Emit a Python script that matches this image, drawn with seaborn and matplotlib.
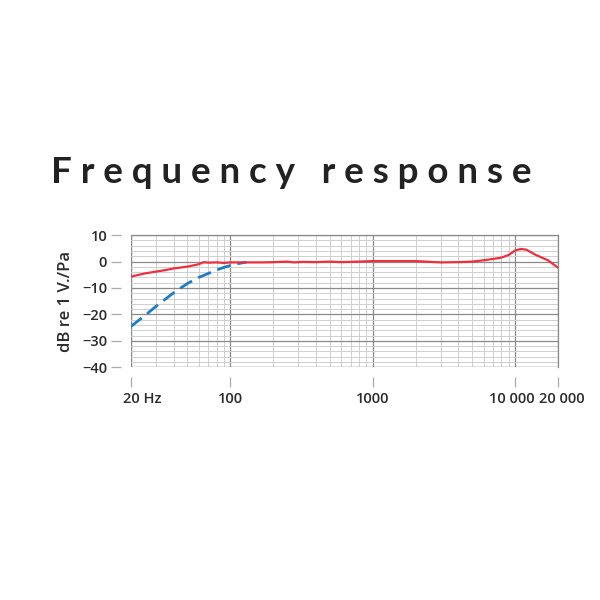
import numpy as np
import pandas as pd
import matplotlib
matplotlib.use('Agg')
import matplotlib.pyplot as plt
import matplotlib.transforms as mtransforms
from matplotlib.ticker import FixedLocator, LogLocator, MultipleLocator, NullFormatter
import seaborn as sns

# Frequency response data
red_freq = [20, 25, 30, 35, 40, 50, 60, 65, 70, 80, 90, 100, 130, 170, 200, 250, 280, 320, 400,
            500, 600, 800, 1000, 1500, 2000, 3000, 4000, 5000, 6000, 7000, 8000, 9000, 10000,
            11000, 12000, 14000, 17000, 20000]
red_db = [-5.7, -4.5, -3.8, -3.2, -2.6, -1.9, -1.0, -0.2, -0.4, -0.3, -0.5, -0.3, -0.3, -0.3, -0.2,
          0.0, -0.3, -0.1, -0.2, 0.0, -0.2, 0.0, 0.2, 0.2, 0.2, -0.3, -0.2, 0.0, 0.5, 1.0, 1.5,
          2.5, 4.2, 4.8, 4.5, 2.5, 0.5, -2.3]

blue_freq = [20, 25, 30, 35, 40, 50, 60, 70, 80, 90, 100, 115, 130]
blue_db = [-24.6, -20.5, -17.0, -14.2, -11.8, -8.3, -6.0, -4.5, -3.2, -2.2, -1.5, -0.7, -0.2]

tick_freqs = [20, 100, 1000, 10000, 20000]
tick_labels = ['20 Hz', '100', '1000', '10 000', '20 000']
y_ticks = [10, 0, -10, -20, -30, -40]

red_df = pd.DataFrame({'freq': red_freq, 'db': red_db})
blue_df = pd.DataFrame({'freq': blue_freq, 'db': blue_db})

sns.set_theme(style='white')
plt.rcParams['font.family'] = ['Open Sans', 'DejaVu Sans']

fig = plt.figure(figsize=(6, 6), dpi=100)
ax = fig.add_axes([0.218, 0.388, 0.712, 0.22])

sns.lineplot(data=blue_df, x='freq', y='db', ax=ax, color='#1f7cc4', linewidth=2.0,
             linestyle=(0, (5, 2.5)))
sns.lineplot(data=red_df, x='freq', y='db', ax=ax, color='#ef2f3c', linewidth=1.6)

ax.set_xscale('log')
ax.set_xlim(20, 20000)
ax.set_ylim(-40, 10)

# grid
ax.xaxis.set_major_locator(FixedLocator(tick_freqs))
ax.set_xticklabels(tick_labels)
ax.xaxis.set_minor_locator(LogLocator(base=10, subs=np.arange(2, 10)))
ax.xaxis.set_minor_formatter(NullFormatter())
ax.yaxis.set_major_locator(FixedLocator(y_ticks))
ax.yaxis.set_minor_locator(MultipleLocator(2))
ax.grid(which='major', color='#8a8a8a', linewidth=0.9)
ax.grid(which='minor', color='#cfcfcf', linewidth=0.7)
ax.set_axisbelow(True)

for s in ['top', 'right']:
    ax.spines[s].set_visible(True)
    ax.spines[s].set_color('#8a8a8a')
    ax.spines[s].set_linewidth(0.9)
for s in ['left', 'bottom']:
    ax.spines[s].set_position(('outward', 7))
    ax.spines[s].set_visible(False)
ax.axvline(20, color='#8a8a8a', linewidth=0.9, zorder=0)
ax.axhline(-40, color='#8a8a8a', linewidth=0.9, zorder=0)

ax.tick_params(axis='both', which='major', length=7, width=0.9, color='#aaaaaa',
               labelsize=10.5, labelcolor='#2b2b2b')
ax.tick_params(axis='both', which='minor', length=0)
ax.tick_params(axis='y', pad=3)
ax.tick_params(axis='x', pad=4, bottom=True)
ax.tick_params(axis='y', left=True)
for lab in ax.get_yticklabels() + ax.get_xticklabels():
    lab.set_fontweight('semibold')
xlabs = ax.get_xticklabels()
xlabs[0].set_transform(xlabs[0].get_transform() + mtransforms.ScaledTranslation(11 / 100, 0, fig.dpi_scale_trans))
xlabs[3].set_transform(xlabs[3].get_transform() + mtransforms.ScaledTranslation(-3 / 100, 0, fig.dpi_scale_trans))
xlabs[4].set_transform(xlabs[4].get_transform() + mtransforms.ScaledTranslation(4 / 100, 0, fig.dpi_scale_trans))

ax.set_xlabel('')
ax.set_ylabel('dB re 1 V./Pa', fontsize=12, color='#2b2b2b', fontweight='semibold', labelpad=6)

fig.text(0.485, 0.713, 'F r e q u e n c y   r e s p o n s e', ha='center', va='center',
         fontsize=26.5, fontweight='bold', color='#222222', family=['Lato', 'DejaVu Sans'])

fig.savefig('out.png', dpi=100, facecolor='white')
